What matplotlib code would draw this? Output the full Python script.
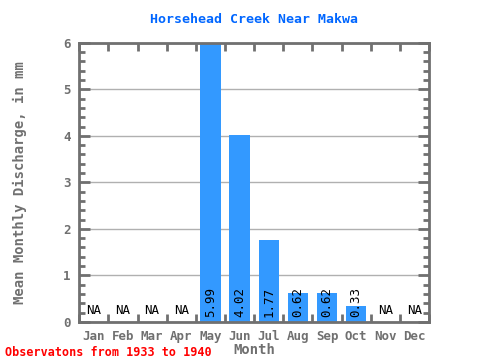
import numpy as np
import matplotlib
matplotlib.use("Agg")
import matplotlib.pyplot as plt
from matplotlib.ticker import MultipleLocator

months = ["Jan", "Feb", "Mar", "Apr", "May", "Jun", "Jul", "Aug", "Sep", "Oct", "Nov", "Dec"]
discharge = [None, None, None, None, 5.99, 4.02, 1.77, 0.62, 0.62, 0.33, None, None]

title = "Horsehead Creek Near Makwa"
footnote = "Observatons from 1933 to 1940"

plt.rcParams['font.family'] = ['DejaVu Sans Mono']
gray = "#707070"

fig = plt.figure(figsize=(4.8, 3.6), dpi=100)
ax = fig.add_axes([0.165, 0.106, 0.729, 0.775])

x = np.arange(len(months))
for i, v in enumerate(discharge):
    if v is None:
        ax.text(i, 0.1, "NA", ha="center", va="bottom", fontsize=9, color="black")
    else:
        ax.bar(i, v, width=0.7, color="#3399FF", zorder=2)
        ax.text(i, 0.1, f"{v:.2f}", ha="center", va="bottom", rotation=90,
                fontsize=9, color="black", zorder=3)

ax.set_xlim(-0.5, 11.5)
ax.set_ylim(0, 6)
ax.yaxis.grid(True, color="#b0b0b0", linewidth=1, zorder=0)
ax.set_axisbelow(True)

ax.set_xticks(x)
ax.set_xticklabels(months)
ax.set_xticks(np.arange(-0.5, 12, 1), minor=True)
ax.tick_params(axis="x", which="major", length=0, pad=6, labelsize=9, labelcolor=gray)
ax.tick_params(axis="x", which="minor", direction="in", length=6, width=2, color=gray,
               top=True, bottom=True)
ax.yaxis.set_major_locator(MultipleLocator(1))
ax.yaxis.set_minor_locator(MultipleLocator(0.2))
ax.tick_params(axis="y", which="major", direction="in", length=8, width=2, color=gray,
               left=True, right=True, labelsize=9, labelcolor=gray, pad=6)
ax.tick_params(axis="y", which="minor", direction="in", length=4, width=2, color=gray,
               left=True, right=True)
for lab in ax.get_xticklabels() + ax.get_yticklabels():
    lab.set_fontweight("bold")

for s in ax.spines.values():
    s.set_color(gray)
    s.set_linewidth(2)

ax.set_title(title, color="#0066FF", fontsize=9.5, fontweight="bold", pad=14)
ax.set_xlabel("Month", color=gray, fontsize=10, fontweight="bold", labelpad=0)
ax.set_ylabel("Mean Monthly Discharge, in mm", color=gray, fontsize=10, fontweight="bold",
              labelpad=26)
fig.text(0.01, 0.012, footnote, color="red", fontsize=8.5, fontweight="bold")

fig.savefig("out.png", dpi=100)
